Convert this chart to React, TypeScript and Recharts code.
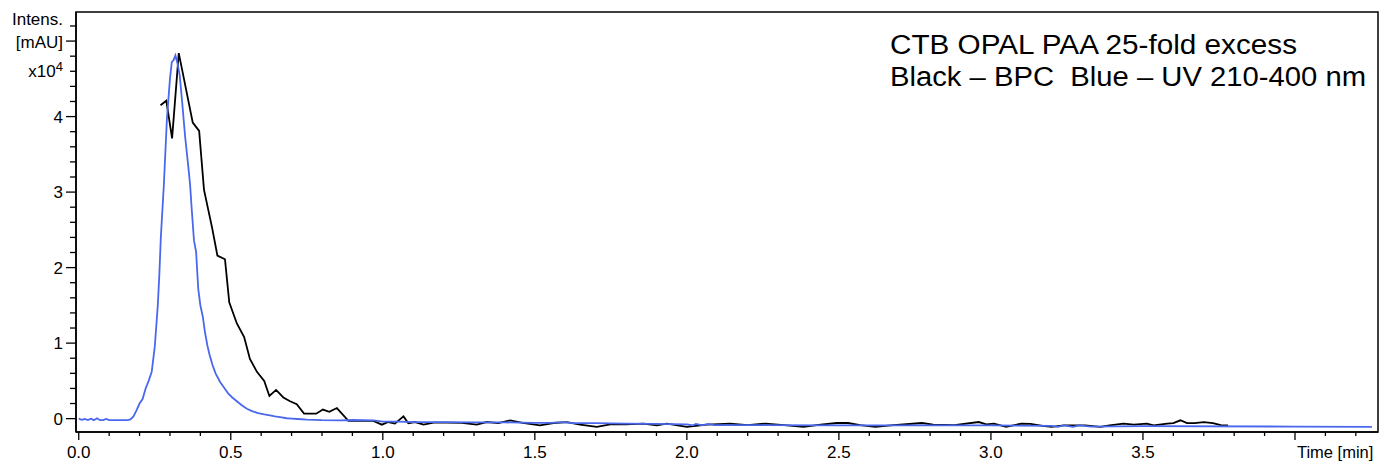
import { LineChart, Line, XAxis, YAxis, ReferenceArea } from 'recharts';

// UV 210-400 nm trace (blue), intensity in units of 1e4 mAU
const uvTime = [
  0.0, 0.01, 0.02, 0.03, 0.04, 0.05, 0.06, 0.07, 0.08, 0.09, 0.1, 0.12, 0.14, 0.16, 0.17, 0.18, 0.19, 0.2,
  0.21, 0.22, 0.23, 0.24, 0.25, 0.26, 0.265, 0.27, 0.28, 0.29, 0.3, 0.306, 0.312, 0.318, 0.325, 0.332, 0.34,
  0.35, 0.36, 0.366, 0.372, 0.379, 0.386, 0.393, 0.4, 0.408, 0.415, 0.423, 0.43, 0.44, 0.45, 0.465, 0.48,
  0.492, 0.505, 0.52, 0.535, 0.553, 0.57, 0.59, 0.61, 0.629, 0.645, 0.662, 0.684, 0.7, 0.72, 0.75, 0.8,
  0.86, 0.9, 0.97, 1.0, 1.05, 1.1, 1.2, 1.3, 1.4, 1.5, 1.55, 1.6, 1.62, 1.7, 1.8, 1.9, 2.0, 2.02, 2.03,
  2.05, 2.07, 2.09, 2.15, 2.5, 3.0, 3.2, 3.22, 3.24, 3.27, 3.29, 3.33, 3.5, 4.0, 4.253,
];
const uvIntensity = [
  0.0, -0.015, -0.005, -0.02, 0.0, -0.02, 0.005, -0.02, -0.02, -0.005, -0.02, -0.02, -0.02, -0.02, -0.01, 0.03,
  0.11, 0.2, 0.26, 0.4, 0.5, 0.62, 0.95, 1.5, 1.9, 2.4, 3.1, 3.97, 4.5, 4.72, 4.75, 4.81, 4.7, 4.55, 4.2,
  3.73, 3.35, 3.11, 2.75, 2.36, 2.21, 1.72, 1.5, 1.35, 1.15, 0.97, 0.85, 0.71, 0.6, 0.485, 0.4,
  0.33, 0.28, 0.23, 0.18, 0.13, 0.1, 0.074, 0.055, 0.044, 0.03, 0.02, 0.005, 0.0, -0.005, -0.013, -0.02,
  -0.023, -0.018, -0.023, -0.04, -0.04, -0.045, -0.045, -0.05, -0.05, -0.055, -0.055, -0.045, -0.06, -0.06,
  -0.065, -0.07, -0.075, -0.09, -0.07, -0.09, -0.07, -0.085, -0.085, -0.088, -0.09, -0.095, -0.11, -0.09,
  -0.11, -0.09, -0.105, -0.1, -0.105, -0.11,
];

// BPC trace (black)
const bpcTime = [
  0.269, 0.288, 0.307, 0.329, 0.375, 0.396, 0.412, 0.438, 0.456, 0.481, 0.495, 0.52, 0.544, 0.563, 0.586,
  0.61, 0.627, 0.649, 0.673, 0.695, 0.717, 0.741, 0.781, 0.803, 0.824, 0.849, 0.887, 0.969, 0.997, 1.018,
  1.04, 1.068, 1.084, 1.106, 1.134, 1.167, 1.21, 1.26, 1.309, 1.342, 1.38, 1.419, 1.46, 1.517, 1.561, 1.605,
  1.649, 1.704, 1.748, 1.8, 1.857, 1.901, 1.934, 2.0, 2.066, 2.142, 2.2, 2.258, 2.32, 2.384, 2.44, 2.493,
  2.53, 2.57, 2.62, 2.67, 2.773, 2.81, 2.88, 2.96, 2.985, 3.01, 3.05, 3.1, 3.13, 3.17, 3.2, 3.24, 3.31,
  3.36, 3.39, 3.436, 3.47, 3.513, 3.535, 3.58, 3.6, 3.623, 3.645, 3.67, 3.7, 3.73, 3.756, 3.78,
];
const bpcIntensity = [
  4.15, 4.21, 3.71, 4.84, 3.92, 3.81, 3.03, 2.54, 2.16, 2.11, 1.54, 1.26, 1.08, 0.79, 0.62,
  0.5, 0.3, 0.38, 0.28, 0.23, 0.19, 0.066, 0.066, 0.12, 0.09, 0.14, -0.03, -0.03, -0.08, -0.045,
  -0.066, 0.03, -0.06, -0.045, -0.08, -0.053, -0.053, -0.055, -0.08, -0.045, -0.06, -0.023, -0.055, -0.088,
  -0.058, -0.045, -0.08, -0.11, -0.075, -0.075, -0.066, -0.088, -0.066, -0.11, -0.08, -0.066, -0.085, -0.066,
  -0.085, -0.11, -0.08, -0.058, -0.058, -0.085, -0.11, -0.09, -0.058, -0.08, -0.085, -0.045, -0.075, -0.066,
  -0.11, -0.066, -0.07, -0.097, -0.11, -0.09, -0.09, -0.11, -0.09, -0.066, -0.08, -0.066, -0.09, -0.066,
  -0.06, -0.022, -0.06, -0.06, -0.045, -0.06, -0.085, -0.088,
];

const xTicks = [
  0, 0.1, 0.2, 0.3, 0.4, 0.5, 0.6, 0.7, 0.8, 0.9, 1.0, 1.1, 1.2, 1.3, 1.4, 1.5, 1.6, 1.7, 1.8, 1.9, 2.0, 2.1,
  2.2, 2.3, 2.4, 2.5, 2.6, 2.7, 2.8, 2.9, 3.0, 3.1, 3.2, 3.3, 3.4, 3.5, 3.6, 3.7, 3.8, 3.9, 4.0, 4.1, 4.2,
];
const xLabels = ['0.0', '0.5', '1.0', '1.5', '2.0', '2.5', '3.0', '3.5', 'Time [min]'];

const yTicks = [
  0, 0.2, 0.4, 0.6, 0.8, 1, 1.2, 1.4, 1.6, 1.8, 2, 2.2, 2.4, 2.6, 2.8, 3, 3.2, 3.4, 3.6, 3.8, 4, 4.2, 4.4,
  4.6, 4.8, 5, 5.2,
];
const yLabels = ['0', '1', '2', '3', '4'];

const titleLines = ['CTB OPAL PAA 25-fold excess', 'Black \u2013 BPC  Blue \u2013 UV 210-400 nm'];

const xDomain: [number, number] = [-0.009, 4.273];
const yDomain: [number, number] = [-0.177, 5.385];

const FONT = '"Liberation Sans", Arial, Helvetica, sans-serif';

const uvData = uvTime.map((t, i) => ({ t, v: uvIntensity[i] }));
const bpcData = bpcTime.map((t, i) => ({ t, v: bpcIntensity[i] }));

function XTick({ x, y, payload }: any) {
  const step = Math.round(payload.value * 10);
  const major = step % 5 === 0;
  const label = major ? xLabels[step / 5] : undefined;
  const isUnit = label === 'Time [min]';
  return (
    <g>
      <line x1={x} x2={x} y1={y} y2={y + (major ? 8 : 4)} stroke="#000" strokeWidth={1.3} />
      {label && (
        <text
          x={isUnit ? x + 2 : x}
          y={y + 26}
          textAnchor={isUnit ? 'start' : 'middle'}
          fontFamily={FONT}
          fontSize={isUnit ? 16.5 : 17}
          fill="#000"
        >
          {label}
        </text>
      )}
    </g>
  );
}

function YTick({ x, y, payload }: any) {
  const step = Math.round(payload.value * 5);
  const major = step % 5 === 0;
  const tx = x - 13;
  let content = null;
  if (major && step / 5 < yLabels.length) {
    content = (
      <text x={tx} y={y + 6} textAnchor="end" fontFamily={FONT} fontSize={17} fill="#000">
        {yLabels[step / 5]}
      </text>
    );
  } else if (step === 26) {
    content = (
      <text x={tx} y={y - 1} textAnchor="end" fontFamily={FONT} fontSize={17} fill="#000">
        Intens.
      </text>
    );
  } else if (step === 25) {
    content = (
      <text x={tx} y={y + 7} textAnchor="end" fontFamily={FONT} fontSize={17} fill="#000">
        [mAU]
      </text>
    );
  } else if (step === 23) {
    content = (
      <text x={tx} y={y + 6} textAnchor="end" fontFamily={FONT} fontSize={17} fill="#000">
        x10
        <tspan dy={-6} fontSize={13}>
          4
        </tspan>
      </text>
    );
  }
  return (
    <g>
      <line x1={x - (major ? 10 : 6)} x2={x} y1={y} y2={y} stroke="#000" strokeWidth={1.3} />
      {content}
    </g>
  );
}

export default function App() {
  return (
    <div style={{ position: 'absolute', left: 0, top: 0, width: 1381, height: 463, background: '#fff' }}>
      <LineChart width={1381} height={463} margin={{ top: 12, right: 3, bottom: 0, left: 0 }}>
        <XAxis
          dataKey="t"
          type="number"
          domain={xDomain}
          ticks={xTicks}
          interval={0}
          height={31}
          tickSize={0}
          tickMargin={0}
          tickLine={false}
          tick={<XTick />}
          axisLine={{ stroke: '#000', strokeWidth: 1.5 }}
          allowDataOverflow
        />
        <YAxis
          type="number"
          domain={yDomain}
          ticks={yTicks}
          interval={0}
          width={76}
          tickSize={0}
          tickMargin={0}
          tickLine={false}
          tick={<YTick />}
          axisLine={{ stroke: '#000', strokeWidth: 1.5 }}
          allowDataOverflow
        />
        <ReferenceArea
          x1={xDomain[0]}
          x2={xDomain[1]}
          y1={yDomain[0]}
          y2={yDomain[1]}
          fill="none"
          stroke="#000"
          strokeWidth={1.5}
          ifOverflow="visible"
        />
        <Line
          data={bpcData}
          dataKey="v"
          type="linear"
          stroke="#000"
          strokeWidth={1.8}
          dot={false}
          activeDot={false}
          isAnimationActive={false}
        />
        <Line
          data={uvData}
          dataKey="v"
          type="linear"
          stroke="#4a68ee"
          strokeWidth={1.8}
          dot={false}
          activeDot={false}
          isAnimationActive={false}
        />
      </LineChart>
      <svg
        width={1381}
        height={463}
        style={{ position: 'absolute', left: 0, top: 0, pointerEvents: 'none' }}
      >
        <text
          x={890}
          y={54}
          fontFamily={FONT}
          fontSize={27}
          textLength={407}
          lengthAdjust="spacingAndGlyphs"
          xmlSpace="preserve"
          style={{ whiteSpace: 'pre' }}
        >
          {titleLines[0]}
        </text>
        <text
          x={890}
          y={86}
          fontFamily={FONT}
          fontSize={27}
          textLength={476}
          lengthAdjust="spacingAndGlyphs"
          xmlSpace="preserve"
          style={{ whiteSpace: 'pre' }}
        >
          {titleLines[1]}
        </text>
      </svg>
    </div>
  );
}
